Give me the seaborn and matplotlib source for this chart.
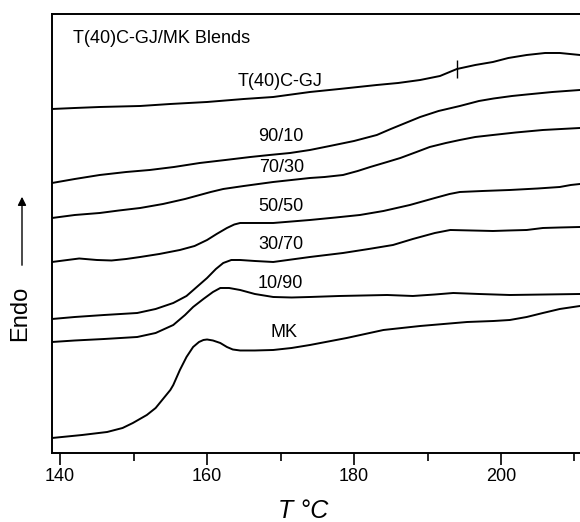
import pandas as pd
import matplotlib
matplotlib.use('Agg')
import matplotlib.pyplot as plt
import seaborn as sns

# DSC traces (heat flow in arbitrary units, endo up)
t_gj = [138.9, 142.0, 145.4, 150.9, 155.0, 160.0, 165.0, 169.0, 174.0, 178.0, 183.1, 186.0, 189.0,
        191.7, 194.0, 196.5, 198.9, 201.0, 203.5, 206.0, 208.0, 210.75]
h_gj = [34.4, 34.5, 34.6, 34.7, 34.9, 35.1, 35.4, 35.6, 36.1, 36.4, 36.8, 37.0, 37.3,
        37.7, 38.4, 38.8, 39.1, 39.5, 39.8, 40.0, 40.0, 39.8]

t_9010 = [138.9, 142.0, 145.4, 149.0, 152.2, 155.5, 159.0, 162.5, 165.9, 168.5, 171.3, 174.0, 176.7,
          180.0, 183.1, 185.0, 187.0, 189.0, 191.5, 194.4, 197.0, 199.0, 201.5, 203.5, 207.0, 210.75]
h_9010 = [27.0, 27.4, 27.8, 28.1, 28.3, 28.6, 29.0, 29.3, 29.6, 29.8, 30.0, 30.3, 30.7,
          31.2, 31.8, 32.4, 33.0, 33.6, 34.2, 34.7, 35.2, 35.45, 35.7, 35.85, 36.1, 36.3]

t_7030 = [138.9, 142.0, 145.4, 148.0, 150.9, 154.0, 157.0, 159.0, 160.5, 162.2, 165.0, 169.0, 171.5,
          174.0, 176.0, 178.5, 180.5, 182.2, 184.5, 186.3, 188.5, 190.3, 192.5, 194.4, 196.5, 198.9,
          202.0, 205.7, 210.75]
h_7030 = [23.5, 23.8, 24.0, 24.25, 24.5, 24.9, 25.4, 25.8, 26.1, 26.4, 26.7, 27.1, 27.3,
          27.5, 27.6, 27.8, 28.2, 28.6, 29.1, 29.5, 30.1, 30.6, 31.0, 31.3, 31.6, 31.8,
          32.05, 32.3, 32.5]

t_5050 = [138.9, 141.0, 142.6, 145.0, 147.0, 149.0, 150.9, 153.5, 156.3, 158.3, 160.0, 161.3, 162.7,
          163.7, 164.5, 167.0, 169.0, 171.5, 174.0, 177.5, 180.8, 184.0, 187.6, 191.0, 193.0, 194.4,
          197.5, 201.2, 205.0, 208.0, 209.5, 210.75]
h_5050 = [19.1, 19.3, 19.45, 19.3, 19.25, 19.4, 19.6, 19.9, 20.3, 20.7, 21.3, 21.9, 22.5,
          22.85, 23.0, 23.0, 23.0, 23.15, 23.3, 23.55, 23.8, 24.2, 24.8, 25.5, 25.9, 26.1,
          26.2, 26.3, 26.45, 26.6, 26.8, 26.9]

t_3070 = [138.9, 142.0, 146.0, 150.5, 153.0, 155.4, 157.2, 158.6, 160.0, 161.2, 162.2, 163.3, 164.5,
          166.5, 169.0, 171.5, 174.0, 178.5, 182.0, 185.3, 188.0, 191.0, 193.1, 196.0, 198.9, 201.0,
          203.5, 205.7, 208.0, 210.75]
h_3070 = [13.4, 13.6, 13.8, 14.0, 14.4, 15.0, 15.7, 16.6, 17.5, 18.4, 19.0, 19.3, 19.3,
          19.2, 19.1, 19.35, 19.6, 20.0, 20.4, 20.8, 21.4, 22.0, 22.3, 22.25, 22.2, 22.25,
          22.3, 22.5, 22.55, 22.6]

t_1090 = [138.9, 142.0, 146.0, 150.5, 153.0, 155.4, 157.0, 158.1, 159.5, 160.8, 161.8, 163.0, 164.5,
          166.5, 169.0, 171.5, 174.0, 178.0, 184.5, 188.0, 191.0, 193.5, 197.0, 201.2, 206.0, 210.75]
h_1090 = [11.1, 11.25, 11.4, 11.6, 12.0, 12.8, 13.8, 14.6, 15.4, 16.1, 16.5, 16.5, 16.3,
          15.9, 15.6, 15.55, 15.6, 15.7, 15.8, 15.7, 15.85, 16.0, 15.9, 15.8, 15.85, 15.9]

t_mk = [138.9, 143.0, 146.4, 148.5, 149.9, 151.8, 153.0, 154.0, 155.0, 155.4, 156.3, 157.2, 158.1,
        158.9, 159.5, 160.0, 160.8, 161.8, 162.7, 163.5, 164.5, 166.5, 169.0, 171.5, 174.0, 179.0,
        184.0, 189.0, 195.4, 199.0, 201.2, 203.5, 205.7, 208.0, 210.75]
h_mk = [1.5, 1.8, 2.1, 2.5, 3.0, 3.8, 4.5, 5.4, 6.3, 6.8, 8.3, 9.6, 10.6,
        11.1, 11.3, 11.35, 11.25, 11.0, 10.6, 10.35, 10.25, 10.25, 10.3, 10.5, 10.8, 11.5,
        12.3, 12.7, 13.1, 13.2, 13.3, 13.6, 14.0, 14.4, 14.7]

names = ['T(40)C-GJ', '90/10', '70/30', '50/50', '30/70', '10/90', 'MK']
temps = [t_gj, t_9010, t_7030, t_5050, t_3070, t_1090, t_mk]
heats = [h_gj, h_9010, h_7030, h_5050, h_3070, h_1090, h_mk]

# label positions (T, heat) next to each trace
label_t = [169.9, 170.1, 170.1, 170.1, 170.1, 169.9, 170.5]
label_h = [37.1, 31.6, 28.5, 24.6, 20.8, 16.9, 12.0]

tg_t = 194.0          # Tg marker on the pure T(40)C-GJ trace
tg_h = (37.5, 39.3)

rows = []
for n, ts, hs in zip(names, temps, heats):
    for t, h in zip(ts, hs):
        rows.append({'sample': n, 'T': t, 'heat': h})
df = pd.DataFrame(rows)

sns.set_style('ticks')
plt.rcParams['font.family'] = ['Liberation Sans', 'DejaVu Sans']
plt.rcParams['text.color'] = 'black'
plt.rcParams['xtick.color'] = 'black'
plt.rcParams['axes.labelcolor'] = 'black'

fig = plt.figure(figsize=(5.8, 5.22), dpi=100)
ax = fig.add_axes([0.0897, 0.1322, 0.9103, 0.841])

sns.lineplot(data=df, x='T', y='heat', units='sample', estimator=None,
             color='black', lw=1.4, sort=False, ax=ax)
ax.vlines(tg_t, tg_h[0], tg_h[1], color='black', lw=1.0)

for n, x, y in zip(names, label_t, label_h):
    ax.text(x, y, n, ha='center', va='center', fontsize=13)
ax.text(141.8, 41.4, 'T(40)C-GJ/MK Blends', ha='left', va='center', fontsize=13)

ax.set_xlim(138.9, 210.75)
ax.set_ylim(0, 43.9)
ax.set_xticks([140, 160, 180, 200])
ax.set_xticks([150, 170, 190, 210], minor=True)
ax.set_yticks([])
ax.tick_params(axis='x', which='major', direction='out', length=8.5, width=1.2,
               labelsize=13, pad=2, color='black', labelcolor='black')
ax.tick_params(axis='x', which='minor', direction='out', length=5.8, width=1.2, color='black')
ax.set_xlabel('')
ax.set_ylabel('')
for s in ['left', 'top', 'bottom']:
    ax.spines[s].set_color('black')
    ax.spines[s].set_linewidth(1.4)
ax.spines['right'].set_visible(False)

fig.text(0.522, 0.021, 'T °C', ha='center', va='center', fontsize=18, style='italic')
fig.text(0.035, 1 - 313 / 522, 'Endo', rotation=90, ha='center', va='center', fontsize=17)
fig.add_artist(matplotlib.patches.FancyArrowPatch(
    (22 / 580, 1 - 268 / 522), (22 / 580, 1 - 194 / 522), transform=fig.transFigure,
    arrowstyle='-|>,head_length=5,head_width=2.5', color='black', lw=1.0))

fig.savefig('out.png', dpi=100)
